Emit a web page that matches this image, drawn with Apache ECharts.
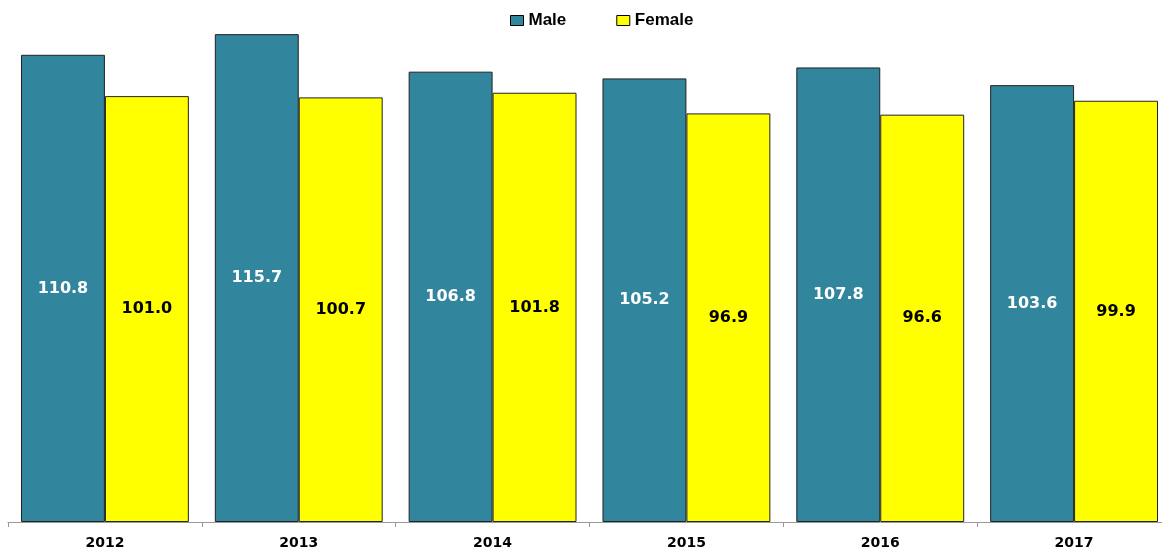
<!DOCTYPE html>
<html><head><meta charset="utf-8">
<script src="https://cdn.jsdelivr.net/npm/echarts@6/dist/echarts.min.js"></script>
<style>html,body{margin:0;padding:0;background:#fff;overflow:hidden}#c{width:1171px;height:553px}</style>
</head><body><div id="c"></div>
<script>
const categories = ['2012','2013','2014','2015','2016','2017'];
const male = [110.8, 115.7, 106.8, 105.2, 107.8, 103.6];
const female = [101.0, 100.7, 101.8, 96.9, 96.6, 99.9];
const chart = echarts.init(document.getElementById('c'));
chart.setOption({
  animation: false,
  backgroundColor: '#fff',
  legend: {
    left: 505, top: 7, itemWidth: 13, itemHeight: 10, itemGap: 50, icon: 'rect',
    textStyle: {fontFamily: 'Liberation Sans', fontWeight: 'bold', fontSize: 17, color: '#000'},
    data: [
      {name: 'Male', itemStyle: {borderColor: '#000', borderWidth: 1}},
      {name: 'Female', itemStyle: {borderColor: '#000', borderWidth: 1}}
    ]
  },
  grid: {left: 8, right: 0, top: 16, bottom: 31, containLabel: false},
  xAxis: {
    type: 'category', data: categories,
    axisLine: {lineStyle: {color: '#999', width: 1}},
    axisTick: {show: true, length: 5, lineStyle: {color: '#999'}},
    axisLabel: {fontFamily: 'DejaVu Sans', fontWeight: 'bold', fontSize: 14, color: '#000', margin: 14}
  },
  yAxis: {type: 'value', min: 0, max: 120, show: false, splitLine: {show: false}},
  series: [
    {name: 'Male', type: 'bar', data: male, barGap: '0%', barCategoryGap: '13.4%',
     itemStyle: {color: '#31859C', borderColor: '#222', borderWidth: 1},
     label: {show: true, position: 'inside', formatter: p => p.value.toFixed(1), color: '#fff',
       fontFamily: 'DejaVu Sans', fontWeight: 'bold', fontSize: 16}},
    {name: 'Female', type: 'bar', data: female,
     itemStyle: {color: '#FFFF00', borderColor: '#222', borderWidth: 1},
     label: {show: true, position: 'inside', formatter: p => p.value.toFixed(1), color: '#000',
       fontFamily: 'DejaVu Sans', fontWeight: 'bold', fontSize: 16}}
  ]
});
</script></body></html>
